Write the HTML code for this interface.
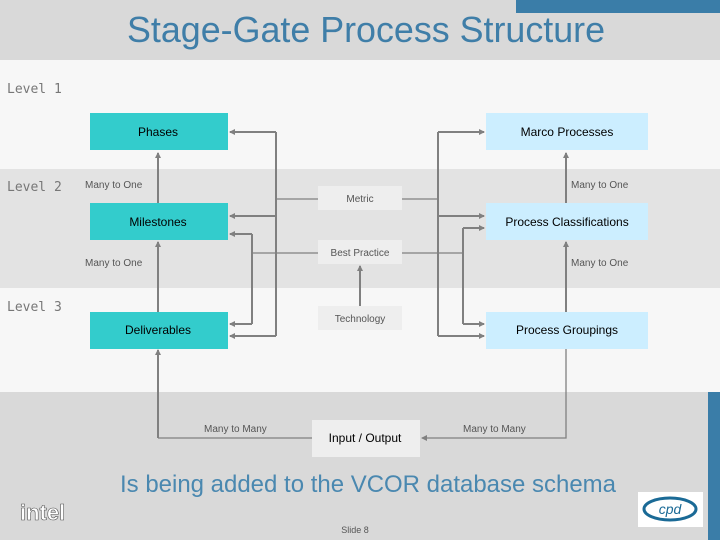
<!DOCTYPE html>
<html><head><meta charset="utf-8"><style>
html,body{margin:0;padding:0;width:720px;height:540px;overflow:hidden;background:#f7f7f7}
svg text{font-family:"Liberation Sans",Arial,sans-serif}
.m{font-family:"DejaVu Sans Mono","Liberation Mono",monospace;font-size:13px;fill:#777}
.s{font-size:10px;fill:#555}
.b{font-size:12px;fill:#000}
</style></head><body>
<svg width="720" height="540" viewBox="0 0 720 540" xmlns="http://www.w3.org/2000/svg">
<defs><marker id="a" markerWidth="6" markerHeight="6" refX="5" refY="3" orient="auto" markerUnits="userSpaceOnUse"><path d="M0,0 L6,3 L0,6 z" fill="#808080"/></marker></defs>
<rect x="0" y="0" width="720" height="60" fill="#d9d9d9"/>
<rect x="516" y="0" width="204" height="13" fill="#3a7da8"/>
<text x="366" y="42" text-anchor="middle" font-size="36" textLength="478" lengthAdjust="spacingAndGlyphs" fill="#3f7ea8">Stage-Gate Process Structure</text>
<rect x="0" y="60" width="720" height="109" fill="#f7f7f7"/>
<rect x="0" y="169" width="720" height="119" fill="#e3e3e3"/>
<rect x="0" y="392" width="720" height="148" fill="#d9d9d9"/>
<rect x="708" y="392" width="12" height="148" fill="#3a7da8"/>
<text class="m" x="7" y="93">Level 1</text>
<text class="m" x="7" y="191">Level 2</text>
<text class="m" x="7" y="311">Level 3</text>
<g stroke="#808080" stroke-width="2" fill="none">
<path d="M276,132 H230" marker-end="url(#a)"/><path d="M276,216 H230" marker-end="url(#a)"/><path d="M276,336 H230" marker-end="url(#a)"/>
<path d="M276,132 V336"/>
<path d="M252,234 H230" marker-end="url(#a)"/><path d="M252,324 H230" marker-end="url(#a)"/><path d="M252,234 V324"/>
<path d="M438,132 H484" marker-end="url(#a)"/><path d="M438,216 H484" marker-end="url(#a)"/><path d="M438,336 H484" marker-end="url(#a)"/>
<path d="M438,132 V336"/>
<path d="M463,228 H484" marker-end="url(#a)"/><path d="M463,324 H484" marker-end="url(#a)"/><path d="M463,228 V324"/>
<path d="M158,203 V153" marker-end="url(#a)"/><path d="M158,312 V242" marker-end="url(#a)"/>
<path d="M158,438 V350" marker-end="url(#a)"/>
<path d="M566,203 V153" marker-end="url(#a)"/><path d="M566,312 V242" marker-end="url(#a)"/>
<path d="M360,306 V266" marker-end="url(#a)"/>
</g>
<g stroke="#808080" stroke-width="1.3" fill="none">
<path d="M276,199 H318 M402,199 H438"/><path d="M252,253 H318 M402,253 H463"/>
<path d="M158,438 H312"/><path d="M566,349 V438 H422" marker-end="url(#a)"/>
</g>
<rect x="90" y="113" width="138" height="37" fill="#33cccc"/>
<rect x="90" y="203" width="138" height="37" fill="#33cccc"/>
<rect x="90" y="312" width="138" height="37" fill="#33cccc"/>
<rect x="486" y="113" width="162" height="37" fill="#cceeff"/>
<rect x="486" y="203" width="162" height="37" fill="#cceeff"/>
<rect x="486" y="312" width="162" height="37" fill="#cceeff"/>
<rect x="318" y="186" width="84" height="24" fill="#eeeeee"/>
<rect x="318" y="240" width="84" height="24" fill="#eeeeee"/>
<rect x="318" y="306" width="84" height="24" fill="#eeeeee"/>
<rect x="312" y="420" width="108" height="37" fill="#eeeeee"/>
<text class="b" x="158" y="136" text-anchor="middle">Phases</text>
<text class="b" x="158" y="226" text-anchor="middle">Milestones</text>
<text class="b" x="158" y="334" text-anchor="middle">Deliverables</text>
<text class="b" x="567" y="136" text-anchor="middle">Marco Processes</text>
<text class="b" x="567" y="226" text-anchor="middle">Process Classifications</text>
<text class="b" x="567" y="334" text-anchor="middle">Process Groupings</text>
<text class="s" x="360" y="202" text-anchor="middle">Metric</text>
<text class="s" x="360" y="256" text-anchor="middle">Best Practice</text>
<text class="s" x="360" y="322" text-anchor="middle">Technology</text>
<text class="b" x="365" y="442" text-anchor="middle">Input / Output</text>
<text class="s" x="85" y="188">Many to One</text>
<text class="s" x="85" y="266">Many to One</text>
<text class="s" x="571" y="188">Many to One</text>
<text class="s" x="571" y="266">Many to One</text>
<text class="s" x="204" y="432">Many to Many</text>
<text class="s" x="463" y="432">Many to Many</text>
<text x="368" y="492" text-anchor="middle" font-size="24" textLength="496" lengthAdjust="spacingAndGlyphs" fill="#4a88b0">Is being added to the VCOR database schema</text>
<text x="355" y="533" text-anchor="middle" font-size="9" fill="#555">Slide 8</text>
<text x="20" y="520" font-size="22" font-weight="bold" fill="#fff" stroke="#555" stroke-width="0.6">intel</text>
<rect x="638" y="492" width="65" height="35" fill="#fff"/>
<ellipse cx="670" cy="509" rx="26" ry="11" fill="none" stroke="#1a6a96" stroke-width="3"/>
<text x="670" y="514" text-anchor="middle" font-size="14" font-style="italic" fill="#1a6a96">cpd</text>
</svg>
</body></html>
